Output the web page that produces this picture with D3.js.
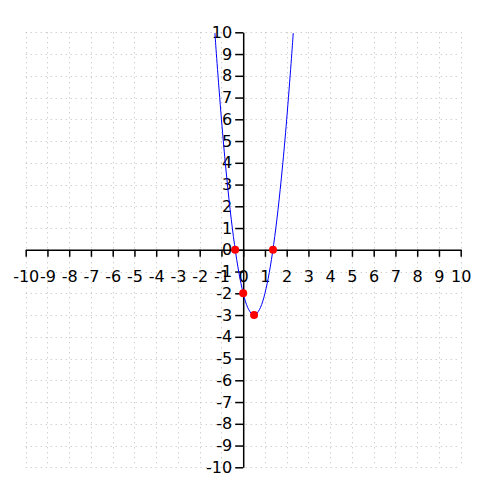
<!DOCTYPE html>
<html>
<head>
<meta charset="utf-8">
<script src="https://cdn.jsdelivr.net/npm/d3@7"></script>
<style>
  body { margin: 0; background: #fff; }
</style>
</head>
<body>
<div id="chart"></div>
<script>
// axis ticks
var xTicks = [-10,-9,-8,-7,-6,-5,-4,-3,-2,-1,0,1,2,3,4,5,6,7,8,9,10];
var yTicks = [-10,-9,-8,-7,-6,-5,-4,-3,-2,-1,0,1,2,3,4,5,6,7,8,9,10];

// curve
var curveX = [-1.3,-1.2,-1.0,-0.8,-0.6,-0.4,-0.2,0,0.2,0.4,0.5,0.6,0.8,1.0,1.2,1.4,1.6,1.8,2.0,2.2,2.3];
var curveY = [9.96,8.56,6,3.76,1.84,0.24,-1.04,-2,-2.64,-2.96,-3,-2.96,-2.64,-2,-1.04,0.24,1.84,3.76,6,8.56,9.96];

// marked points
var pointX = [-0.37, 0, 0.5, 1.37];
var pointY = [0, -2, -3, 0];

var width = 500, height = 500;

var x = d3.scaleLinear().domain([-10, 10]).range([25.7, 460.7]);
var y = d3.scaleLinear().domain([-10, 10]).range([467.3, 32.3]);

var svg = d3.select("#chart").append("svg")
  .attr("width", width)
  .attr("height", height);

// grid
var grid = svg.append("g").attr("class", "grid")
  .attr("stroke", "#bdbdbd")
  .attr("stroke-width", 1)
  .attr("stroke-dasharray", "1,4");

grid.selectAll("line.v")
  .data(xTicks)
  .enter().append("line")
  .attr("class", "v")
  .attr("x1", function(d) { return Math.round(x(d)) + 0.5; })
  .attr("x2", function(d) { return Math.round(x(d)) + 0.5; })
  .attr("y1", y(10))
  .attr("y2", y(-10));

grid.selectAll("line.h")
  .data(yTicks)
  .enter().append("line")
  .attr("class", "h")
  .attr("y1", function(d) { return Math.round(y(d)) + 0.5; })
  .attr("y2", function(d) { return Math.round(y(d)) + 0.5; })
  .attr("x1", x(-10))
  .attr("x2", x(10));

// plain hyphen minus, like the reference
var fmt = function(d) { return String(d); };

// x axis
var xAxis = d3.axisBottom(x)
  .tickValues(xTicks)
  .tickSize(7)
  .tickPadding(14)
  .tickSizeOuter(0)
  .tickFormat(fmt);

svg.append("g")
  .attr("class", "x axis")
  .attr("transform", "translate(0," + y(0) + ")")
  .call(xAxis);

// y axis
var yAxis = d3.axisLeft(y)
  .tickValues(yTicks)
  .tickSize(8)
  .tickPadding(3)
  .tickSizeOuter(0)
  .tickFormat(fmt);

svg.append("g")
  .attr("class", "y axis")
  .attr("transform", "translate(" + x(0) + ",0)")
  .call(yAxis);

svg.selectAll(".axis path, .axis line")
  .attr("stroke", "#000")
  .attr("stroke-width", 1.5);
svg.selectAll(".axis text")
  .attr("font-family", "DejaVu Sans")
  .attr("font-size", 16)
  .attr("fill", "#000");

// curve
var curveData = curveX.map(function(d, i) { return [d, curveY[i]]; });
var line = d3.line()
  .x(function(d) { return x(d[0]); })
  .y(function(d) { return y(d[1]); })
  .curve(d3.curveNatural);

svg.append("path")
  .datum(curveData)
  .attr("fill", "none")
  .attr("stroke", "#0000ff")
  .attr("stroke-width", 1)
  .attr("d", line);

// points
var pts = pointX.map(function(d, i) { return [d, pointY[i]]; });
svg.selectAll("circle.pt")
  .data(pts)
  .enter().append("circle")
  .attr("class", "pt")
  .attr("cx", function(d) { return x(d[0]); })
  .attr("cy", function(d) { return y(d[1]); })
  .attr("r", 4)
  .attr("fill", "#ff0000");
</script>
</body>
</html>
